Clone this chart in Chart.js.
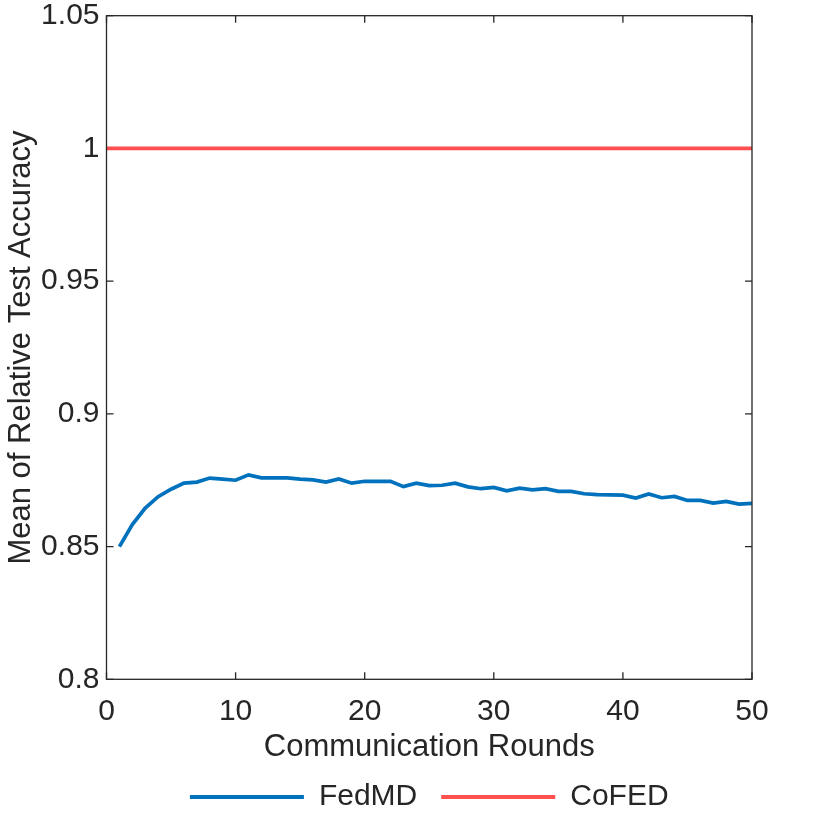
<!DOCTYPE html>
<html><head><meta charset="utf-8">
<script src="https://cdn.jsdelivr.net/npm/chart.js@4"></script>
<style>html,body{margin:0;padding:0;background:#fff}canvas{display:block}</style>
</head><body>
<canvas id="c" width="830" height="815"></canvas>
<script>
const rounds = [1,2,3,4,5,6,7,8,9,10,11,12,13,14,15,16,17,18,19,20,21,22,23,24,25,26,27,28,29,30,31,32,33,34,35,36,37,38,39,40,41,42,43,44,45,46,47,48,49,50];
const fedmd = [0.8500,0.8583,0.8645,0.8688,0.8716,0.8739,0.8743,0.8758,0.8754,0.8750,
               0.8770,0.8759,0.8759,0.8759,0.8754,0.8751,0.8743,0.8755,0.8739,0.8746,
               0.8746,0.8746,0.8726,0.8739,0.8730,0.8731,0.8739,0.8725,0.8718,0.8723,
               0.8710,0.8720,0.8714,0.8718,0.8708,0.8708,0.8699,0.8696,0.8695,0.8694,
               0.8683,0.8698,0.8684,0.8689,0.8674,0.8674,0.8664,0.8670,0.8660,0.8663];
const cofedRounds = [0, 50];
const cofed = [1, 1];
const seriesNames = ['FedMD', 'CoFED'];
const xTicks = [0, 10, 20, 30, 40, 50];
const xTickLabels = ['0', '10', '20', '30', '40', '50'];
const yTicks = [0.8, 0.85, 0.9, 0.95, 1, 1.05];
const yTickLabels = ['0.8', '0.85', '0.9', '0.95', '1', '1.05'];
const xTitle = 'Communication Rounds';
const yTitle = 'Mean of Relative Test Accuracy';

const BLUE = '#0072BD';
const RED = '#FF4F4F';
const AXIS = '#262626';
const FS = 30;
const TFS = 31;

Chart.defaults.font.family = '"Liberation Sans", Arial, Helvetica, sans-serif';
Chart.defaults.color = AXIS;

const boxPlugin = {
  id: 'boxAxes',
  beforeDatasetsDraw(chart) {
    const {ctx, chartArea: a, scales: {x, y}} = chart;
    const L = 7;
    ctx.save();
    ctx.strokeStyle = AXIS;
    ctx.lineWidth = 1.3;
    ctx.beginPath();
    xTicks.forEach(v => {
      const p = x.getPixelForValue(v);
      ctx.moveTo(p, a.bottom); ctx.lineTo(p, a.bottom - L);
      ctx.moveTo(p, a.top); ctx.lineTo(p, a.top + L);
    });
    yTicks.forEach(v => {
      const p = y.getPixelForValue(v);
      ctx.moveTo(a.left, p); ctx.lineTo(a.left + L, p);
      ctx.moveTo(a.right, p); ctx.lineTo(a.right - L, p);
    });
    ctx.stroke();
    ctx.restore();
  },
  afterDatasetsDraw(chart) {
    const {ctx, chartArea: a} = chart;
    ctx.save();
    ctx.strokeStyle = AXIS;
    ctx.lineWidth = 1.3;
    ctx.strokeRect(a.left, a.top, a.right - a.left, a.bottom - a.top);
    ctx.restore();
  }
};

new Chart(document.getElementById('c'), {
  type: 'line',
  data: {
    datasets: [
      {
        label: seriesNames[0],
        data: rounds.map((r, i) => ({x: r, y: fedmd[i]})),
        borderColor: BLUE, backgroundColor: BLUE,
        borderWidth: 3.7, pointRadius: 0, tension: 0
      },
      {
        label: seriesNames[1],
        data: cofedRounds.map((r, i) => ({x: r, y: cofed[i]})),
        borderColor: RED, backgroundColor: RED,
        borderWidth: 3.7, pointRadius: 0, tension: 0
      }
    ]
  },
  options: {
    responsive: false,
    animation: false,
    events: [],
    layout: { padding: { left: 0, right: 78, top: 15.7, bottom: -7 } },
    plugins: {
      tooltip: { enabled: false },
      legend: {
        position: 'bottom',
        fullSize: false,
        labels: {
          boxWidth: 114, boxHeight: 4, padding: 24,
          font: { size: FS }, color: AXIS,
          generateLabels: (chart) => Chart.defaults.plugins.legend.labels.generateLabels(chart).map(l => ({...l, lineWidth: 0}))
        }
      }
    },
    scales: {
      x: {
        type: 'linear', min: 0, max: 50,
        grid: { display: false, drawTicks: false },
        border: { display: false },
        afterBuildTicks: s => { s.ticks = xTicks.map(v => ({value: v})); },
        ticks: { padding: 14, font: { size: FS }, color: AXIS, maxRotation: 0,
                 callback: (v) => xTickLabels[xTicks.indexOf(v)] },
        title: { display: true, text: xTitle, font: { size: TFS }, color: AXIS, padding: { top: 0, bottom: -7.6 } },
        afterFit: s => { s.height = 78.7; s.paddingLeft = 0; s.paddingRight = 0; }
      },
      y: {
        type: 'linear', min: 0.8, max: 1.05,
        grid: { display: false, drawTicks: false },
        border: { display: false },
        afterBuildTicks: s => { s.ticks = yTicks.map(v => ({value: v})); },
        ticks: { padding: 7, font: { size: FS }, color: AXIS,
                 callback: (v) => yTickLabels[yTicks.findIndex(t => Math.abs(t - v) < 1e-9)] },
        title: { display: true, text: yTitle, font: { size: TFS }, color: AXIS, padding: { top: 2.5, bottom: 0 } },
        afterFit: s => { s.width = 106.5; s.paddingTop = 0; s.paddingBottom = 0; }
      }
    }
  },
  plugins: [boxPlugin]
});
</script>
</body></html>
